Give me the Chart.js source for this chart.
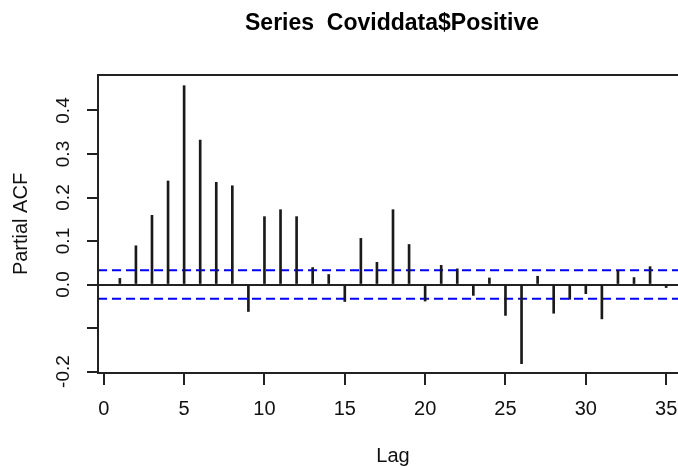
<!DOCTYPE html>
<html>
<head>
<meta charset="utf-8">
<script src="https://cdn.jsdelivr.net/npm/chart.js@4.4.1/dist/chart.umd.min.js"></script>
<style>
  html, body { margin: 0; padding: 0; background: #fff; overflow: hidden; }
  #wrap { width: 700px; height: 466px; }
</style>
</head>
<body>
<div id="wrap"><canvas id="pacfChart" width="700" height="466"></canvas></div>
<script>
const lags = [1, 2, 3, 4, 5, 6, 7, 8, 9, 10, 11, 12, 13, 14, 15, 16, 17, 18,
  19, 20, 21, 22, 23, 24, 25, 26, 27, 28, 29, 30, 31, 32, 33, 34, 35];
const pacf = [0.014, 0.089, 0.159, 0.238, 0.457, 0.332, 0.235, 0.227, -0.062,
  0.156, 0.172, 0.156, 0.039, 0.023, -0.039, 0.106, 0.051, 0.172, 0.092,
  -0.038, 0.044, 0.036, -0.025, 0.015, -0.071, -0.182, 0.019, -0.066, -0.034,
  -0.021, -0.079, 0.032, 0.016, 0.041, -0.007];
const ciLimit = 0.033;
const xTicks = [0, 5, 10, 15, 20, 25, 30, 35];
const yTicks = [-0.2, -0.1, 0, 0.1, 0.2, 0.3, 0.4];
const yTickLabels = ["-0.2", "", "0.0", "0.1", "0.2", "0.3", "0.4"];
const xRange = [-0.36, 36.36];
const yRange = [-0.2034, 0.4816];

const FONT = "'Liberation Sans', Arial, sans-serif";
const INK = "#222";

// box, title and rotated y labels (R style)
const rDecor = {
  id: "rDecor",
  afterDraw(chart) {
    const { ctx, chartArea: a, scales } = chart;
    ctx.save();
    ctx.strokeStyle = INK;
    ctx.lineWidth = 2;
    ctx.strokeRect(a.left, a.top, a.right - a.left, a.bottom - a.top);

    ctx.fillStyle = "#000";
    ctx.font = `bold 23px ${FONT}`;
    ctx.textAlign = "center";
    ctx.textBaseline = "alphabetic";
    ctx.fillText("Series  Coviddata$Positive", 392, 30);

    ctx.font = `19px ${FONT}`;
    ctx.fillStyle = "#111";
    ctx.textBaseline = "middle";
    yTicks.forEach((v, i) => {
      if (!yTickLabels[i]) return;
      const py = scales.y.getPixelForValue(v);
      ctx.save();
      ctx.translate(64, py);
      ctx.rotate(-Math.PI / 2);
      ctx.fillText(yTickLabels[i], 0, 0);
      ctx.restore();
    });
    ctx.restore();
  },
};

const ciLine = (value) => ({
  type: "line",
  data: [{ x: xRange[0], y: value }, { x: xRange[1], y: value }],
  borderColor: "#0000ff",
  borderWidth: 2,
  borderDash: [9, 5],
  pointRadius: 0,
  fill: false,
});

new Chart(document.getElementById("pacfChart"), {
  type: "bar",
  data: {
    datasets: [
      {
        data: lags.map((lag, i) => ({ x: lag, y: pacf[i] })),
        backgroundColor: "#1a1a1a",
        barThickness: 2,
      },
      ciLine(ciLimit),
      ciLine(-ciLimit),
    ],
  },
  options: {
    responsive: false,
    animation: false,
    layout: { padding: { top: 75, left: 0, right: 12, bottom: 0 } },
    plugins: { legend: { display: false }, tooltip: { enabled: false } },
    scales: {
      x: {
        type: "linear",
        min: xRange[0],
        max: xRange[1],
        offset: false,
        afterBuildTicks: (scale) => {
          scale.ticks = xTicks.map((v) => ({ value: v }));
        },
        afterFit: (scale) => {
          scale.height = 93;
        },
        border: { display: false },
        grid: {
          offset: false,
          drawOnChartArea: false,
          drawTicks: true,
          tickLength: 12,
          tickColor: INK,
          lineWidth: 2,
        },
        ticks: {
          color: "#111",
          font: { family: FONT, size: 20 },
          padding: 12,
          maxRotation: 0,
          autoSkip: false,
          callback: (v) => String(v),
        },
        title: {
          display: true,
          text: "Lag",
          color: "#111",
          font: { family: FONT, size: 20 },
          padding: { top: 0, bottom: -2 },
        },
      },
      y: {
        min: yRange[0],
        max: yRange[1],
        afterBuildTicks: (scale) => {
          scale.ticks = yTicks.map((v) => ({ value: v }));
        },
        afterFit: (scale) => {
          scale.width = 98;
        },
        border: { display: false },
        grid: {
          drawOnChartArea: true,
          drawTicks: true,
          tickLength: 11,
          tickColor: INK,
          lineWidth: 2,
          color: (ctx) => (ctx.tick && ctx.tick.value === 0 ? INK : "rgba(0,0,0,0)"),
        },
        ticks: { display: false },
        title: {
          display: true,
          text: "Partial ACF",
          color: "#111",
          font: { family: FONT, size: 20 },
          padding: { top: 9, bottom: 0 },
        },
      },
    },
  },
  plugins: [rDecor],
});
</script>
</body>
</html>
